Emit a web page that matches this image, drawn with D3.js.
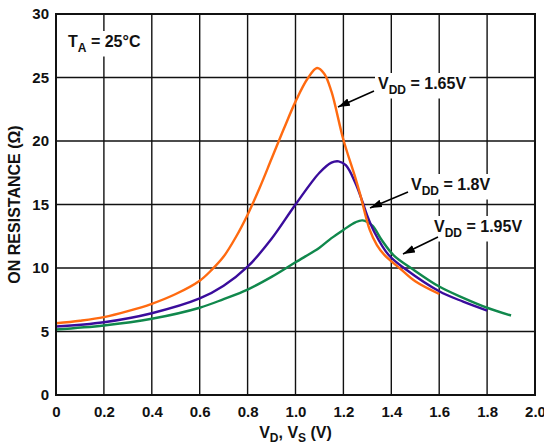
<!DOCTYPE html>
<html>
<head>
<meta charset="utf-8">
<script src="https://cdn.jsdelivr.net/npm/d3@7"></script>
<style>
  body { margin: 0; background: #fff; }
  svg text { font-family: "Liberation Sans", Arial, sans-serif; font-weight: bold; }
</style>
</head>
<body>
<svg id="chart" width="544" height="444"></svg>
<script>
// data
var xTicks = [0, 0.2, 0.4, 0.6, 0.8, 1.0, 1.2, 1.4, 1.6, 1.8, 2.0];
var yTicks = [0, 5, 10, 15, 20, 25, 30];

var vdd165 = [
  [0, 5.65], [0.1, 5.85], [0.2, 6.13], [0.3, 6.6], [0.4, 7.18], [0.5, 7.95],
  [0.6, 9.0], [0.65, 9.85], [0.7, 10.9], [0.75, 12.4], [0.8, 14.2], [0.85, 16.3],
  [0.9, 18.6], [0.95, 20.9], [1.0, 23.1], [1.05, 24.9], [1.09, 25.75],
  [1.12, 25.3], [1.15, 23.9], [1.2, 20.1], [1.25, 17.1], [1.27, 15.8],
  [1.31, 13.0], [1.34, 11.8], [1.37, 11.05], [1.44, 9.9], [1.5, 8.95],
  [1.6, 7.95]
];
var vdd18 = [
  [0, 5.39], [0.2, 5.73], [0.4, 6.44], [0.6, 7.6], [0.7, 8.6], [0.8, 10.1],
  [0.9, 12.3], [1.0, 15.0], [1.1, 17.5], [1.15, 18.3], [1.18, 18.4],
  [1.21, 18.1], [1.25, 16.7], [1.28, 15.2], [1.3, 14.1], [1.33, 12.8],
  [1.39, 11.0], [1.46, 9.9], [1.6, 8.17], [1.7, 7.35], [1.8, 6.65]
];
var vdd195 = [
  [0, 5.16], [0.2, 5.47], [0.4, 6.0], [0.6, 6.87], [0.7, 7.55], [0.8, 8.3],
  [0.9, 9.3], [1.0, 10.45], [1.1, 11.6], [1.15, 12.35], [1.2, 13.0],
  [1.25, 13.6], [1.28, 13.75], [1.32, 13.35], [1.36, 12.2], [1.41, 11.0],
  [1.49, 9.9], [1.6, 8.54], [1.7, 7.65], [1.8, 6.87], [1.9, 6.26]
];

var seriesNames = ["1.65V", "1.8V", "1.95V"];
var seriesColors = ["#ff6a10", "#3a0c9c", "#10884c"];

var svg = d3.select("#chart");
var margin = {top: 14, right: 9, bottom: 49, left: 56};
var width = +svg.attr("width") - margin.left - margin.right,
    height = +svg.attr("height") - margin.top - margin.bottom;

var x = d3.scaleLinear().domain([0, 2.0]).range([margin.left, margin.left + width]);
var y = d3.scaleLinear().domain([0, 30]).range([margin.top + height, margin.top]);

// grid
svg.append("g")
  .selectAll("line")
  .data(xTicks)
  .join("line")
    .attr("x1", d => x(d)).attr("x2", d => x(d))
    .attr("y1", y(0)).attr("y2", y(30))
    .attr("stroke", "#111").attr("stroke-width", 1.4);
svg.append("g")
  .selectAll("line")
  .data(yTicks)
  .join("line")
    .attr("x1", x(0)).attr("x2", x(2.0))
    .attr("y1", d => y(d)).attr("y2", d => y(d))
    .attr("stroke", "#111").attr("stroke-width", 1.4);

// axes (labels only, the grid does the lines)
var xAxis = svg.append("g")
  .attr("transform", `translate(0,${y(0)})`)
  .call(d3.axisBottom(x).tickValues(xTicks).tickSize(0).tickPadding(11)
    .tickFormat(d => d === 0 ? "0" : d3.format(".1f")(d)));
var yAxis = svg.append("g")
  .attr("transform", `translate(${x(0)},0)`)
  .call(d3.axisLeft(y).tickValues(yTicks).tickSize(0).tickPadding(7));
[xAxis, yAxis].forEach(function(a) {
  a.select(".domain").remove();
  a.selectAll("text").attr("font-size", 15).attr("font-weight", "bold")
    .attr("font-family", "Liberation Sans, Arial, sans-serif").attr("fill", "#111");
});

// curves
var line = d3.line()
  .x(d => x(d[0]))
  .y(d => y(d[1]))
  .curve(d3.curveCatmullRom.alpha(0.5));

[vdd195, vdd18, vdd165].forEach(function(s, i) {
  var ci = 2 - i;
  svg.append("path")
    .datum(s)
    .attr("fill", "none")
    .attr("stroke", seriesColors[ci])
    .attr("stroke-width", 2.4)
    .attr("stroke-linejoin", "round")
    .attr("d", line);
});

// frame
svg.append("rect")
  .attr("x", x(0)).attr("y", y(30))
  .attr("width", x(2.0) - x(0)).attr("height", y(0) - y(30))
  .attr("fill", "none").attr("stroke", "#111").attr("stroke-width", 2);

// arrowhead
svg.append("defs").append("marker")
  .attr("id", "arrow")
  .attr("viewBox", "0 0 12 8")
  .attr("refX", 12).attr("refY", 4)
  .attr("markerWidth", 12).attr("markerHeight", 8)
  .attr("markerUnits", "userSpaceOnUse")
  .attr("orient", "auto")
  .append("path")
    .attr("d", "M0,0 L12,4 L0,8 Z")
    .attr("fill", "#000");

// boxed label with subscript
function label(tx, ty, main, sub, rest) {
  var g = svg.append("g");
  var bg = g.append("rect").attr("fill", "#fff");
  var t = g.append("text")
    .attr("x", tx).attr("y", ty)
    .attr("font-size", 16).attr("fill", "#111");
  t.append("tspan").text(main);
  t.append("tspan").attr("font-size", 12).attr("dy", 4.5).text(sub);
  t.append("tspan").attr("dy", -4.5).text(rest);
  var b = t.node().getBBox();
  bg.attr("x", b.x - 3).attr("y", b.y - 2)
    .attr("width", b.width + 6).attr("height", b.height + 4);
}

function arrow(x1, y1, x2, y2) {
  svg.append("line")
    .attr("x1", x1).attr("y1", y1).attr("x2", x2).attr("y2", y2)
    .attr("stroke", "#000").attr("stroke-width", 1.6)
    .attr("marker-end", "url(#arrow)");
}

label(68, 47, "T", "A", " = 25°C");
label(378, 89, "V", "DD", " = " + seriesNames[0]);
label(411, 190, "V", "DD", " = " + seriesNames[1]);
label(434, 232, "V", "DD", " = " + seriesNames[2]);

arrow(374, 91, 338, 107);
arrow(408, 192, 370, 208);
arrow(438, 237, 403, 254);

// axis titles
var xt = svg.append("text")
  .attr("x", x(1.0)).attr("y", 438)
  .attr("text-anchor", "middle")
  .attr("font-size", 16).attr("fill", "#111");
xt.append("tspan").text("V");
xt.append("tspan").attr("font-size", 12).attr("dy", 4).text("D");
xt.append("tspan").attr("dy", -4).text(", V");
xt.append("tspan").attr("font-size", 12).attr("dy", 4).text("S");
xt.append("tspan").attr("dy", -4).text(" (V)");

svg.append("text")
  .attr("transform", `translate(20,${y(15)}) rotate(-90)`)
  .attr("text-anchor", "middle")
  .attr("font-size", 16).attr("fill", "#111")
  .text("ON RESISTANCE (Ω)");
</script>
</body>
</html>
